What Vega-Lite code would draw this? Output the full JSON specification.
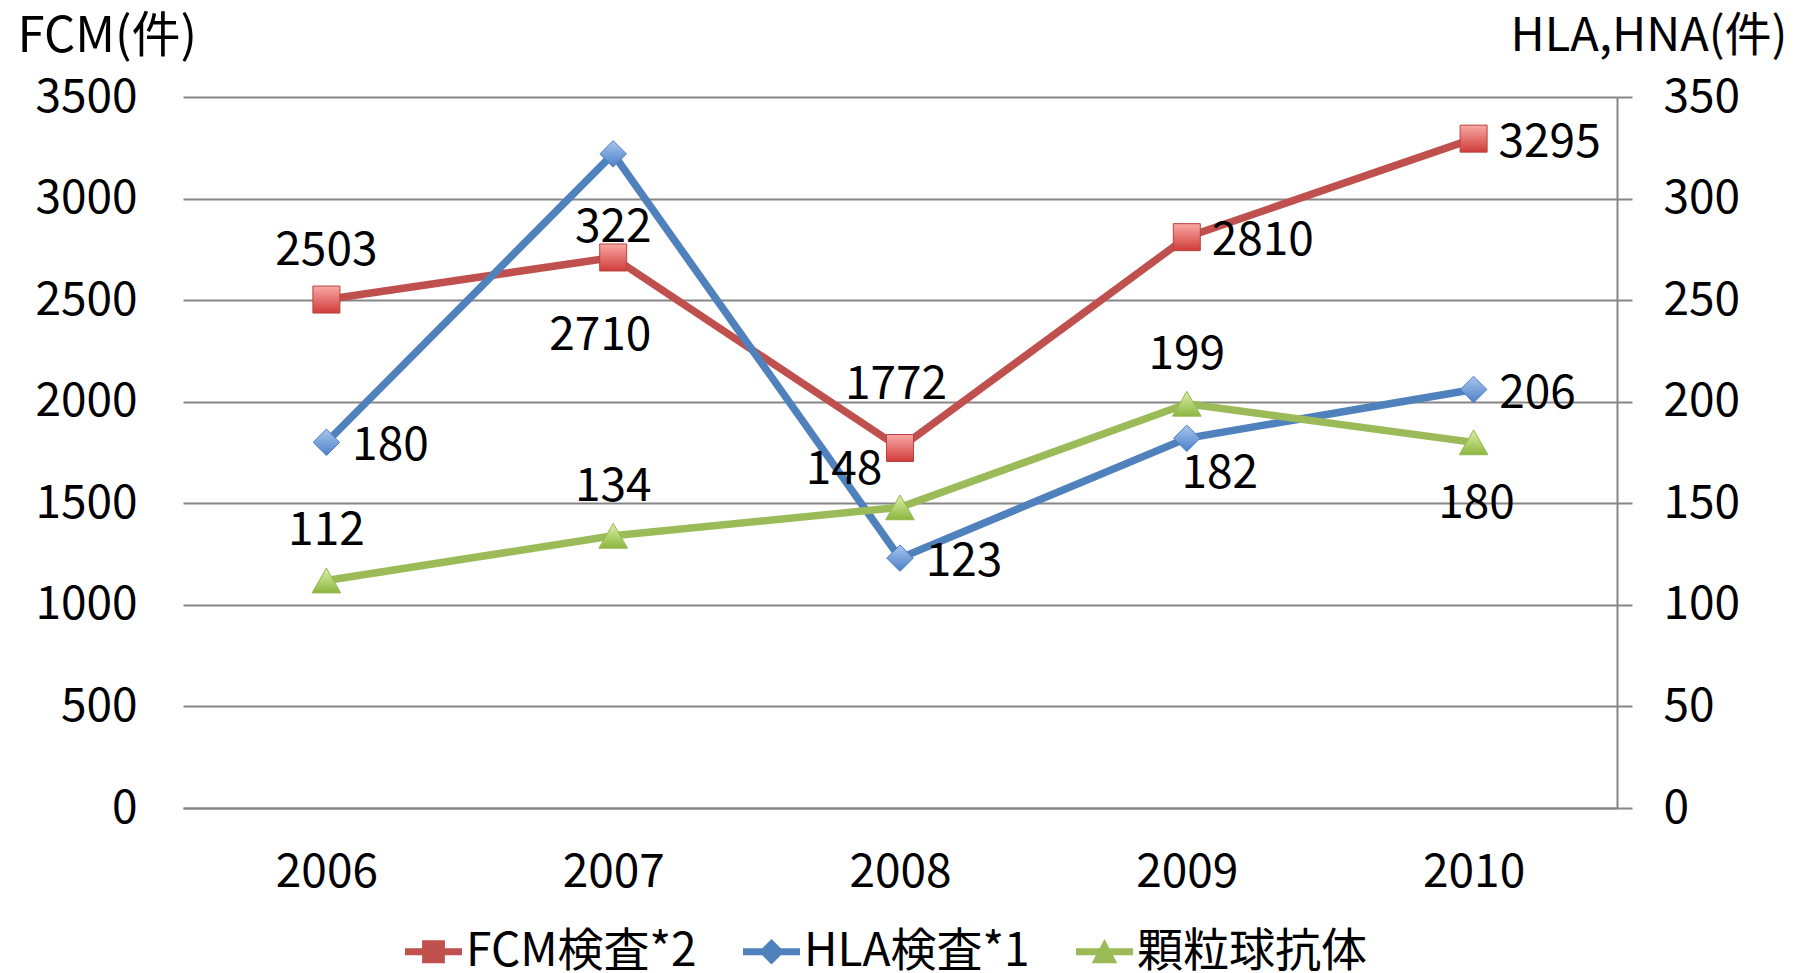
{
  "$schema": "https://vega.github.io/schema/vega-lite/v6.json",
  "width": 1434,
  "height": 711,
  "autosize": {"type": "none"},
  "padding": {"left": 183, "top": 97, "right": 187, "bottom": 165},
  "background": "#ffffff",
  "config": {
    "view": {"stroke": null},
    "font": "Noto Sans CJK JP",
    "axis": {"labelFont": "Noto Sans CJK JP", "titleFont": "Noto Sans CJK JP", "labelColor": "#000000", "titleColor": "#000000", "titleFontWeight": "normal"}
  },
  "data": {
    "values": [
      {"year": "2006", "series": "FCM検査*2", "value": 2503},
      {"year": "2007", "series": "FCM検査*2", "value": 2710},
      {"year": "2008", "series": "FCM検査*2", "value": 1772},
      {"year": "2009", "series": "FCM検査*2", "value": 2810},
      {"year": "2010", "series": "FCM検査*2", "value": 3295},
      {"year": "2006", "series": "HLA検査*1", "value": 180},
      {"year": "2007", "series": "HLA検査*1", "value": 322},
      {"year": "2008", "series": "HLA検査*1", "value": 123},
      {"year": "2009", "series": "HLA検査*1", "value": 182},
      {"year": "2010", "series": "HLA検査*1", "value": 206},
      {"year": "2006", "series": "顆粒球抗体", "value": 112},
      {"year": "2007", "series": "顆粒球抗体", "value": 134},
      {"year": "2008", "series": "顆粒球抗体", "value": 148},
      {"year": "2009", "series": "顆粒球抗体", "value": 199},
      {"year": "2010", "series": "顆粒球抗体", "value": 180}
    ]
  },
  "encoding": {
    "x": {
      "field": "year", "type": "ordinal",
      "scale": {"type": "point", "padding": 0.5},
      "axis": {"title": null, "labelAngle": 0, "labelFontSize": 46, "ticks": false, "grid": false, "domain": true, "domainColor": "#868686", "domainWidth": 2, "labelPadding": 64, "labelBaseline": "middle"}
    }
  },
  "layer": [
    {
      "transform": [{"filter": "datum.series === 'FCM検査*2'"}],
      "encoding": {
        "y": {
          "field": "value", "type": "quantitative",
          "scale": {"domain": [0, 3500], "nice": false},
          "axis": {
            "orient": "left", "values": [0, 500, 1000, 1500, 2000, 2500, 3000, 3500], "format": "d",
            "domain": false, "ticks": false, "grid": true, "gridColor": "#868686", "gridWidth": 2,
            "labelFontSize": 46, "labelPadding": 46,
            "title": "FCM(件)", "titleFontSize": 49, "titleAngle": 0, "titleAlign": "left", "titleBaseline": "middle", "titleX": -166, "titleY": -61
          }
        }
      },
      "layer": [
        {
          "mark": {"type": "line", "strokeWidth": 7.5},
          "encoding": {
            "color": {
              "field": "series", "type": "nominal",
              "scale": {"domain": ["FCM検査*2", "HLA検査*1", "顆粒球抗体"], "range": ["#C0504D", "#4F81BD", "#9BBB59"]},
              "legend": {
                "title": null, "orient": "none", "direction": "horizontal", "legendX": 222, "legendY": 826,
                "labelFont": "Noto Sans CJK JP", "labelFontSize": 46, "labelColor": "#000000", "labelLimit": 500, "labelOffset": 4,
                "symbolSize": 3249, "columnPadding": 46, "padding": 0,
                "encode": {
                  "symbols": {
                    "update": {
                      "shape": {"signal": "datum.value === 'FCM検査*2' ? 'M-1,-0.12H1V0.12H-1Z M-0.4,-0.4H0.4V0.4H-0.4Z' : datum.value === 'HLA検査*1' ? 'M-1,-0.12H1V0.12H-1Z M0,-0.45L0.45,0L0,0.45L-0.45,0Z' : 'M-1,-0.12H1V0.12H-1Z M0,-0.45L0.45,0.4H-0.45Z'"},
                      "fill": {"signal": "datum.value === 'FCM検査*2' ? '#C0504D' : datum.value === 'HLA検査*1' ? '#4F81BD' : '#9BBB59'"},
                      "stroke": {"value": "transparent"},
                      "strokeWidth": {"value": 0},
                      "opacity": {"value": 1}
                    }
                  }
                }
              }
            }
          }
        },
        {
          "mark": {
            "type": "point", "shape": "square", "size": 729, "opacity": 1,
            "fill": {"gradient": "linear", "x1": 0, "y1": 0, "x2": 0, "y2": 1, "stops": [{"offset": 0, "color": "#F9A8A6"}, {"offset": 1, "color": "#D03C39"}]},
            "stroke": "#B8433F", "strokeWidth": 1
          }
        },
        {
          "transform": [{"filter": "datum.year === '2006'"}],
          "mark": {"type": "text", "font": "Noto Sans CJK JP", "fontSize": 46, "color": "#000000", "baseline": "middle", "align": "center", "dx": 0, "dy": -49},
          "encoding": {"text": {"field": "value", "type": "quantitative", "format": "d"}}
        },
        {
          "transform": [{"filter": "datum.year === '2007'"}],
          "mark": {"type": "text", "font": "Noto Sans CJK JP", "fontSize": 46, "color": "#000000", "baseline": "middle", "align": "center", "dx": -13, "dy": 79},
          "encoding": {"text": {"field": "value", "type": "quantitative", "format": "d"}}
        },
        {
          "transform": [{"filter": "datum.year === '2008'"}],
          "mark": {"type": "text", "font": "Noto Sans CJK JP", "fontSize": 46, "color": "#000000", "baseline": "middle", "align": "center", "dx": -4, "dy": -63},
          "encoding": {"text": {"field": "value", "type": "quantitative", "format": "d"}}
        },
        {
          "transform": [{"filter": "datum.year === '2009' || datum.year === '2010'"}],
          "mark": {"type": "text", "font": "Noto Sans CJK JP", "fontSize": 46, "color": "#000000", "baseline": "middle", "align": "center", "dx": 76, "dy": 4},
          "encoding": {"text": {"field": "value", "type": "quantitative", "format": "d"}}
        }
      ]
    },
    {
      "transform": [{"filter": "datum.series !== 'FCM検査*2'"}],
      "encoding": {
        "y": {
          "field": "value", "type": "quantitative",
          "scale": {"domain": [0, 350], "nice": false},
          "axis": {
            "orient": "right", "values": [0, 50, 100, 150, 200, 250, 300, 350], "format": "d",
            "domain": true, "domainColor": "#868686", "domainWidth": 2,
            "ticks": true, "tickSize": 15, "tickColor": "#868686", "tickWidth": 2, "grid": false,
            "labelFontSize": 46, "labelPadding": 31,
            "title": "HLA,HNA(件)", "titleFontSize": 47, "titleAngle": 0, "titleAlign": "right", "titleBaseline": "middle", "titleX": 170, "titleY": -61
          }
        }
      },
      "layer": [
        {
          "transform": [{"filter": "datum.series === 'HLA検査*1'"}],
          "mark": {"type": "line", "strokeWidth": 7.5},
          "encoding": {"color": {"field": "series", "type": "nominal"}}
        },
        {
          "transform": [{"filter": "datum.series === 'HLA検査*1'"}],
          "mark": {
            "type": "point", "shape": "diamond", "size": 700, "opacity": 1,
            "fill": {"gradient": "linear", "x1": 0, "y1": 0, "x2": 0, "y2": 1, "stops": [{"offset": 0, "color": "#A8C6EE"}, {"offset": 1, "color": "#4C80C8"}]},
            "stroke": "#4A7CBF", "strokeWidth": 1
          }
        },
        {
          "transform": [{"filter": "datum.series === '顆粒球抗体'"}],
          "mark": {"type": "line", "strokeWidth": 7.5},
          "encoding": {"color": {"field": "series", "type": "nominal"}}
        },
        {
          "transform": [{"filter": "datum.series === '顆粒球抗体'"}],
          "mark": {
            "type": "point", "shape": "triangle-up", "size": 820, "opacity": 1,
            "fill": {"gradient": "linear", "x1": 0, "y1": 0, "x2": 0, "y2": 1, "stops": [{"offset": 0, "color": "#DDF0A6"}, {"offset": 1, "color": "#8CB63F"}]},
            "stroke": "#94B853", "strokeWidth": 1
          }
        },
        {
          "transform": [{"filter": "datum.series === 'HLA検査*1' && (datum.year === '2006' || datum.year === '2008' || datum.year === '2010')"}],
          "mark": {"type": "text", "font": "Noto Sans CJK JP", "fontSize": 46, "color": "#000000", "baseline": "middle", "align": "center", "dx": 64, "dy": 4},
          "encoding": {"text": {"field": "value", "type": "quantitative", "format": "d"}}
        },
        {
          "transform": [{"filter": "datum.series === 'HLA検査*1' && datum.year === '2007'"}],
          "mark": {"type": "text", "font": "Noto Sans CJK JP", "fontSize": 46, "color": "#000000", "baseline": "middle", "align": "center", "dx": 0, "dy": 74},
          "encoding": {"text": {"field": "value", "type": "quantitative", "format": "d"}}
        },
        {
          "transform": [{"filter": "datum.series === 'HLA検査*1' && datum.year === '2009'"}],
          "mark": {"type": "text", "font": "Noto Sans CJK JP", "fontSize": 46, "color": "#000000", "baseline": "middle", "align": "center", "dx": 33, "dy": 36},
          "encoding": {"text": {"field": "value", "type": "quantitative", "format": "d"}}
        },
        {
          "transform": [{"filter": "datum.series === '顆粒球抗体' && (datum.year === '2006' || datum.year === '2007' || datum.year === '2009')"}],
          "mark": {"type": "text", "font": "Noto Sans CJK JP", "fontSize": 46, "color": "#000000", "baseline": "middle", "align": "center", "dx": 0, "dy": -49},
          "encoding": {"text": {"field": "value", "type": "quantitative", "format": "d"}}
        },
        {
          "transform": [{"filter": "datum.series === '顆粒球抗体' && datum.year === '2008'"}],
          "mark": {"type": "text", "font": "Noto Sans CJK JP", "fontSize": 46, "color": "#000000", "baseline": "middle", "align": "center", "dx": -56, "dy": -37},
          "encoding": {"text": {"field": "value", "type": "quantitative", "format": "d"}}
        },
        {
          "transform": [{"filter": "datum.series === '顆粒球抗体' && datum.year === '2010'"}],
          "mark": {"type": "text", "font": "Noto Sans CJK JP", "fontSize": 46, "color": "#000000", "baseline": "middle", "align": "center", "dx": 3, "dy": 62},
          "encoding": {"text": {"field": "value", "type": "quantitative", "format": "d"}}
        }
      ]
    }
  ],
  "resolve": {"scale": {"y": "independent"}}
}
